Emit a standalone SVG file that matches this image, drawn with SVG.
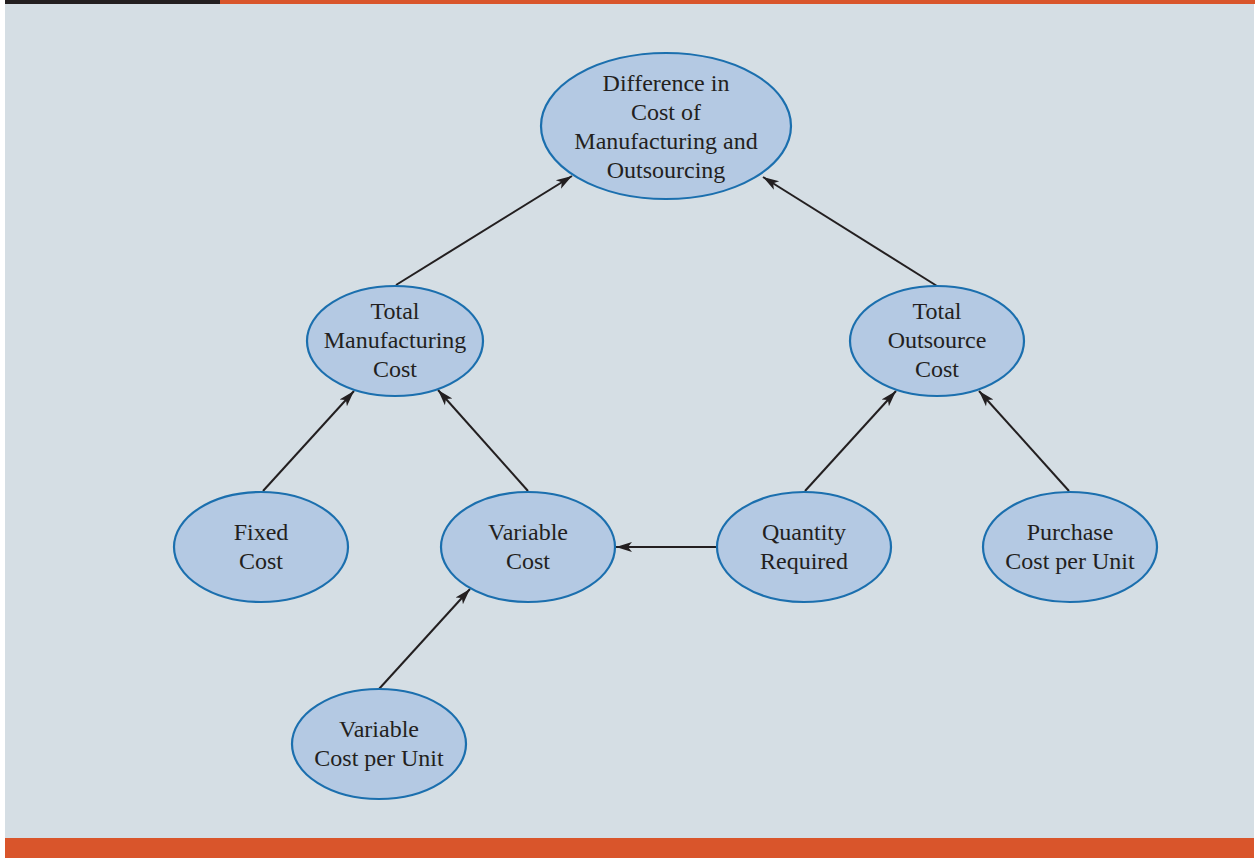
<svg xmlns="http://www.w3.org/2000/svg" width="1255" height="858" viewBox="0 0 1255 858">
  <style>
    .node ellipse { fill: #b4c9e3; stroke: #1b6fae; stroke-width: 2.2; }
    .node text { font-family: "Liberation Serif", "Times New Roman", serif; font-size: 24px; fill: #231f20; text-anchor: middle; }
    .edge { stroke: #231f20; stroke-width: 2; fill: none; marker-end: url(#arrow); }
  </style>
  <defs>
    <marker id="arrow" markerWidth="17" markerHeight="12" refX="16" refY="6" orient="auto" markerUnits="userSpaceOnUse">
      <path d="M0,1 L16,6 L0,11 L4,6 Z" fill="#231f20"/>
    </marker>
  </defs>

  <!-- page frame -->
  <rect x="0" y="0" width="1255" height="858" fill="#ffffff"/>
  <rect x="5" y="4" width="1249" height="834" fill="#d5dee4"/>
  <rect x="5" y="0" width="215" height="4" fill="#231f20"/>
  <rect x="220" y="0" width="1035" height="4" fill="#d9552b"/>
  <rect x="5" y="838" width="1249" height="20" fill="#d9552b"/>

  <!-- connectors -->
  <g id="connectors">
    <line class="edge" x1="396" y1="285" x2="572" y2="176"/>
    <line class="edge" x1="937" y1="286" x2="763" y2="177"/>
    <line class="edge" x1="263" y1="491" x2="354" y2="391"/>
    <line class="edge" x1="528" y1="491" x2="438" y2="390"/>
    <line class="edge" x1="805" y1="491" x2="896" y2="391"/>
    <line class="edge" x1="1069" y1="491" x2="979" y2="391"/>
    <line class="edge" x1="717" y1="547" x2="616" y2="547"/>
    <line class="edge" x1="379" y1="689" x2="470" y2="589"/>
  </g>

  <!-- nodes -->
  <g id="difference" class="node">
    <ellipse cx="666" cy="126" rx="125" ry="73"/>
    <text x="666" y="91">Difference in</text>
    <text x="666" y="120">Cost of</text>
    <text x="666" y="149">Manufacturing and</text>
    <text x="666" y="178">Outsourcing</text>
  </g>
  <g id="total-manufacturing" class="node">
    <ellipse cx="395" cy="341" rx="88" ry="55"/>
    <text x="395" y="319">Total</text>
    <text x="395" y="348">Manufacturing</text>
    <text x="395" y="377">Cost</text>
  </g>
  <g id="total-outsource" class="node">
    <ellipse cx="937" cy="341" rx="87" ry="55"/>
    <text x="937" y="319">Total</text>
    <text x="937" y="348">Outsource</text>
    <text x="937" y="377">Cost</text>
  </g>
  <g id="fixed-cost" class="node">
    <ellipse cx="261" cy="547" rx="87" ry="55"/>
    <text x="261" y="540">Fixed</text>
    <text x="261" y="569">Cost</text>
  </g>
  <g id="variable-cost" class="node">
    <ellipse cx="528" cy="547" rx="87" ry="55"/>
    <text x="528" y="540">Variable</text>
    <text x="528" y="569">Cost</text>
  </g>
  <g id="quantity-required" class="node">
    <ellipse cx="804" cy="547" rx="87" ry="55"/>
    <text x="804" y="540">Quantity</text>
    <text x="804" y="569">Required</text>
  </g>
  <g id="purchase-cost" class="node">
    <ellipse cx="1070" cy="547" rx="87" ry="55"/>
    <text x="1070" y="540">Purchase</text>
    <text x="1070" y="569">Cost per Unit</text>
  </g>
  <g id="variable-cost-per-unit" class="node">
    <ellipse cx="379" cy="744" rx="87" ry="55"/>
    <text x="379" y="737">Variable</text>
    <text x="379" y="766">Cost per Unit</text>
  </g>
</svg>
